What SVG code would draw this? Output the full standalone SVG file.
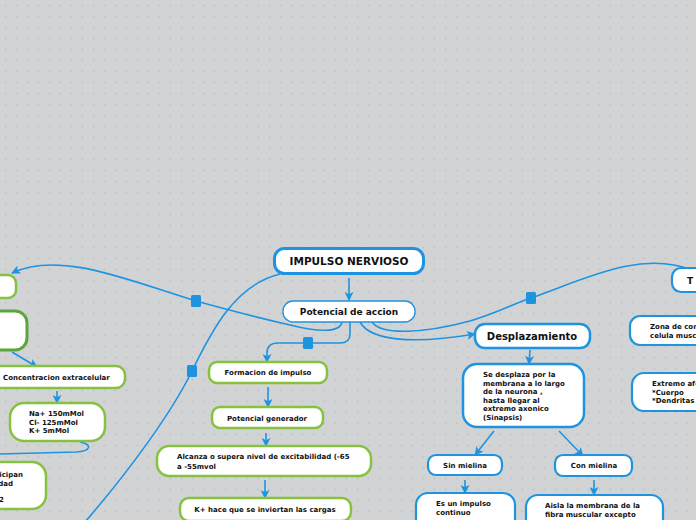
<svg xmlns="http://www.w3.org/2000/svg" width="696" height="520" viewBox="0 0 696 520">
<defs>
<pattern id="dots" width="11" height="11" patternUnits="userSpaceOnUse">
<rect x="4.5" y="5" width="2" height="1" fill="#c2c3c5"/>
<rect x="5" y="4.5" width="1" height="2" fill="#c2c3c5"/>
</pattern>
<marker id="ah" viewBox="0 0 10 10" refX="9" refY="5" markerWidth="9" markerHeight="9" markerUnits="userSpaceOnUse" orient="auto">
<path d="M0,0 L10,5 L0,10 L2.5,5 Z" fill="#1e94e0"/>
</marker>
</defs>
<style>
.bn{fill:#fff;stroke:#1e94e0;stroke-width:2.2}
.gn{fill:#fff;stroke:#86c140;stroke-width:2.5}
.dg{fill:#fff;stroke:#5aa63a;stroke-width:3}
.t{font-family:"DejaVu Sans",sans-serif;font-weight:bold;fill:#111;font-size:7px}
.c{text-anchor:middle}
.ln{fill:none;stroke:#1e94e0;stroke-width:1.6}
.ar{fill:none;stroke:#1e94e0;stroke-width:1.6;marker-end:url(#ah)}
.mk{fill:#1e94e0}
</style>
<rect width="696" height="520" fill="#d2d3d5"/>
<rect width="696" height="520" fill="url(#dots)"/>

<g id="connectors">
<path class="ln" d="M280 274 C235 285 212 330 192 371 C172 412 130 470 85 522"/>
<path class="ar" d="M342 322 C340 333 318 332 290 325 C255 317 225 309 196 301 C130 281 60 250 12 273"/>
<path class="ln" d="M372 322 C382 336 425 333 470 321 C498 313 515 303 531 298 C585 279 640 250 692 270"/>
<path class="ar" d="M360 322 C370 340 410 345 475 334"/>
<path class="ar" d="M350 322 L350 334 Q350 343 340 343 L278 343 Q267 343 267 353 L267 362"/>
<path class="ar" d="M349 278 L349 300"/>
<path class="ar" d="M530 350 L529 364"/>
<path class="ar" d="M494 431 L475 455"/>
<path class="ar" d="M559 431 L583 456"/>
<path class="ar" d="M465 480 L465 493"/>
<path class="ar" d="M594 480 L594 495"/>
<path class="ar" d="M268 387 L268 407"/>
<path class="ar" d="M266 433 L266 446"/>
<path class="ar" d="M265 480 L265 498"/>
<path class="ar" d="M12 352 L37 367"/>
<path class="ar" d="M57 391 L57 403"/>
<path class="ln" d="M80 442 C92 444 92 451 76 452 L0 454"/>
<rect class="mk" x="191" y="295" width="10" height="12" rx="1.5"/>
<rect class="mk" x="187" y="365" width="10" height="12" rx="1.5"/>
<rect class="mk" x="303" y="337" width="10" height="12" rx="1.5"/>
<rect class="mk" x="526" y="292" width="10" height="12" rx="1.5"/>
</g>

<g id="impulso">
<rect x="274.5" y="248.5" width="149" height="25" rx="10" fill="#fff" stroke="#1e94e0" stroke-width="3"/>
<text class="t c" x="349" y="265" style="font-size:10.5px">IMPULSO NERVIOSO</text>
</g>
<g id="potencial-accion">
<rect class="bn" x="283" y="301" width="132" height="21" rx="10" style="stroke-width:1.4"/>
<text class="t c" x="349" y="315" style="font-size:9px">Potencial de accion</text>
</g>
<g id="desplazamiento">
<rect class="bn" x="475" y="324" width="115" height="24" rx="10" style="stroke-width:2.5"/>
<text class="t c" x="532" y="340" style="font-size:10px">Desplazamiento</text>
</g>
<g id="se-desplaza">
<rect class="bn" x="463" y="364" width="121" height="63" rx="14" style="stroke-width:2.5"/>
<text class="t" x="483" y="377"><tspan x="483" dy="0">Se desplaza por la</tspan><tspan x="483" dy="8.6">membrana a lo largo</tspan><tspan x="483" dy="8.6">de la neurona ,</tspan><tspan x="483" dy="8.6">hasta llegar al</tspan><tspan x="483" dy="8.6">extremo axonico</tspan><tspan x="483" dy="8.6">(Sinapsis)</tspan></text>
</g>
<g id="sin-mielina">
<rect class="bn" x="428" y="455" width="74" height="20" rx="8"/>
<text class="t c" x="465" y="468">Sin mielina</text>
</g>
<g id="con-mielina">
<rect class="bn" x="555" y="455" width="77" height="21" rx="8"/>
<text class="t c" x="594" y="468">Con mielina</text>
</g>
<g id="impulso-continuo">
<rect class="bn" x="416" y="493" width="99" height="40" rx="12"/>
<text class="t" x="436" y="506"><tspan x="436" dy="0">Es un impulso</tspan><tspan x="436" dy="9">continuo</tspan></text>
</g>
<g id="aisla">
<rect class="bn" x="526" y="495" width="137" height="40" rx="12"/>
<text class="t" x="545" y="508"><tspan x="545" dy="0">Aisla la membrana de la</tspan><tspan x="545" dy="9">fibra muscular excepto</tspan></text>
</g>
<g id="t-node">
<rect class="bn" x="672" y="268" width="40" height="24" rx="9"/>
<text class="t" x="687" y="284" style="font-size:9px">T</text>
</g>
<g id="zona">
<rect class="bn" x="630" y="316" width="80" height="29" rx="10"/>
<text class="t" x="650" y="329"><tspan x="650" dy="0">Zona de contacto</tspan><tspan x="650" dy="9">celula muscular</tspan></text>
</g>
<g id="extremo">
<rect class="bn" x="632" y="373" width="80" height="38" rx="12"/>
<text class="t" x="652" y="386"><tspan x="652" dy="0">Extremo aferente</tspan><tspan x="652" dy="8.5">*Cuerpo</tspan><tspan x="652" dy="8.5">*Dendritas</tspan></text>
</g>
<g id="left-top">
<rect class="gn" x="-20" y="275" width="36" height="23" rx="8"/>
</g>
<g id="left-second">
<rect class="dg" x="-40" y="311" width="67" height="39" rx="12"/>
</g>
<g id="extracelular">
<rect class="gn" x="-20" y="366" width="145" height="22" rx="9"/>
<text class="t" x="3" y="380">Concentracion extracelular</text>
</g>
<g id="iones">
<rect class="gn" x="10" y="403" width="95" height="38" rx="14"/>
<text class="t" x="29" y="416"><tspan x="29" dy="0">Na+ 150mMol</tspan><tspan x="29" dy="8.5">Cl- 125mMol</tspan><tspan x="29" dy="8.5">K+ 5mMol</tspan></text>
</g>
<g id="participan">
<rect class="gn" x="-40" y="462" width="86" height="47" rx="14"/>
<text class="t" style="text-anchor:end"><tspan x="23" y="477">Participan</tspan><tspan x="13" y="485.5">actividad</tspan><tspan x="4" y="502">Ca+2</tspan></text>
</g>
<g id="formacion">
<rect class="gn" x="209" y="362" width="118" height="21" rx="8"/>
<text class="t c" x="268" y="375">Formacion de impulso</text>
</g>
<g id="generador">
<rect class="gn" x="212" y="407" width="111" height="21" rx="8"/>
<text class="t c" x="267" y="421">Potencial generador</text>
</g>
<g id="alcanza">
<rect class="gn" x="157" y="446" width="214" height="30" rx="12"/>
<text class="t" x="177" y="459"><tspan x="177" dy="0">Alcanza o supera nivel de excitabilidad (-65</tspan><tspan x="177" dy="9.5">a -55mvol</tspan></text>
</g>
<g id="cargas">
<rect class="gn" x="180" y="498" width="171" height="23" rx="9"/>
<text class="t c" x="265" y="512">K+ hace que se inviertan las cargas</text>
</g>
</svg>
